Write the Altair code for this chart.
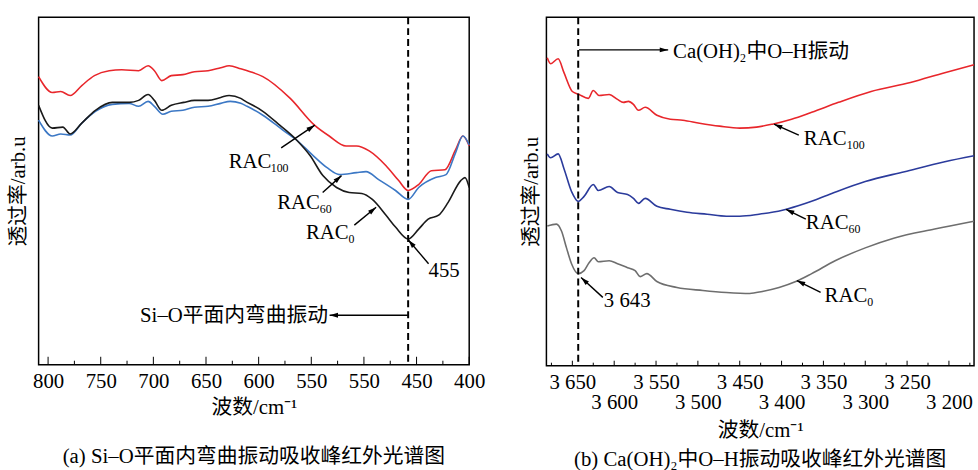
import math
import altair as alt
import pandas as pd

FONT = "'Liberation Serif', 'Noto Sans CJK SC', serif"

# ---------------- panel (a): Si-O bending ----------------
a_series = ["RAC100", "RAC60", "RAC0"]
a_colors = ["#e8262b", "#3c78c5", "#1a1a1a"]

a_red_w = [809, 796, 788, 779, 768, 756, 742, 730, 714, 705, 699, 692, 683, 672, 661, 648, 636, 628, 617, 608,
           596, 570, 547, 533, 517, 507, 495, 479, 467, 458, 448, 436, 423, 413, 406, 400]
a_red_y = [291, 275, 276, 272, 282, 292, 297, 298, 297, 302, 297, 287, 292, 293, 296, 297, 300, 302, 299, 296,
           291, 269, 242, 231, 221, 221, 216, 201, 186, 176, 182, 196, 197, 217, 231, 221]

a_blue_w = [809, 796, 788, 779, 768, 755, 739, 723, 714, 705, 699, 691, 683, 672, 661, 648, 636, 627, 617, 611,
            596, 577, 564, 549, 535, 523, 507, 498, 486, 470, 458, 448, 432, 422, 413, 406, 400]
a_blue_y = [247, 231, 233, 232, 244, 256, 263, 264, 261, 266, 261, 253, 256, 257, 260, 261, 264, 266, 264, 261,
            252, 237, 227, 212, 199, 192, 194, 195, 187, 176, 167, 179, 189, 192, 214, 231, 222]

a_black_w = [809, 796, 786, 779, 768, 755, 739, 723, 714, 705, 699, 692, 683, 671, 661, 648, 636, 628, 617, 614,
             596, 580, 564, 551, 539, 526, 514, 502, 492, 479, 470, 458, 448, 439, 429, 420, 408, 404, 400]
a_black_y = [262, 239, 240, 233, 244, 257, 265, 265, 267, 273, 267, 257, 262, 265, 267, 267, 270, 272, 269, 267,
             256, 242, 227, 211, 191, 179, 174, 173, 167, 151, 139, 127, 137, 147, 151, 164, 186, 189, 179]

a_xdomain = [400, 809]
a_ydomain = [0, 351]
a_tick_values = [800, 750, 700, 650, 600, 550, 500, 450, 400]
a_tick_labels = ["800", "750", "700", "650", "600", "550", "550", "450", "400"]
a_minor_ticks = [775, 725, 675, 625, 575, 525, 475, 425]
a_peak = [458]

a_label_text = ["RAC", "RAC", "RAC", "455"]
a_label_w = [628.5, 582.4, 555.1, 438.6]
a_label_y = [199, 157, 127, 89]
a_sub_text = ["100", "60", "0"]
a_sub_w = [588.5, 542.0, 514.6]
a_sub_y = [195, 153, 123]
a_note_text = ["Si–O平面内弯曲振动"]
a_note_w = [534.0]
a_note_y = [43]

a_arrow_w1 = [578.6, 539.2, 509.1, 438.6, 458.3]
a_arrow_y1 = [219, 174, 141, 102, 50]
a_arrow_w2 = [546.7, 521.3, 488.4, 457.8, 532.6]
a_arrow_y2 = [242, 191, 159, 126, 50]

# ---------------- panel (b): O-H in Ca(OH)2 ----------------
b_series = ["RAC100", "RAC60", "RAC0"]
b_colors = ["#e8262b", "#2b3b9c", "#6e6e6e"]

b_red_w = [3680, 3676, 3667, 3660, 3650, 3642, 3631, 3625, 3618, 3606, 3596, 3589, 3583, 3577, 3571, 3563, 3549,
           3533, 3518, 3498, 3474, 3450, 3430, 3411, 3388, 3364, 3332, 3293, 3246, 3205, 3170]
b_red_y = [311, 305, 310, 296, 277, 274, 270, 278, 273, 274, 269, 266, 267, 264, 258, 261, 253,
           249, 248, 245, 242, 240, 241, 244, 249, 256, 266, 277, 286, 296, 304]

b_blue_w = [3680, 3676, 3667, 3660, 3651, 3643, 3636, 3625, 3619, 3606, 3596, 3584, 3577, 3571, 3563, 3549, 3533,
            3513, 3489, 3466, 3450, 3427, 3399, 3371, 3340, 3300, 3253, 3205, 3170]
b_blue_y = [214, 210, 214, 199, 176, 166, 171, 183, 177, 181, 175, 173, 169, 164, 169, 161, 158,
            155, 153, 151, 151, 153, 157, 164, 174, 186, 196, 206, 212]

b_gray_w = [3680, 3669, 3663, 3657, 3651, 3643, 3636, 3630, 3624, 3619, 3606, 3596, 3584, 3575, 3569, 3561, 3549,
            3525, 3494, 3466, 3438, 3423, 3403, 3383, 3364, 3336, 3300, 3265, 3217, 3170]
b_gray_y = [141, 143, 136, 119, 103, 93, 96, 104, 109, 105, 106, 103, 99, 96, 90, 93, 85,
            79, 76, 74, 73, 75, 79, 85, 93, 106, 119, 129, 138, 146]

b_xdomain = [3170, 3681]
b_ydomain = [0, 352]
b_tick_values = [3650, 3600, 3550, 3500, 3450, 3400, 3350, 3300, 3250, 3200]
b_minor_ticks = [3675, 3625, 3575, 3525, 3475, 3425, 3375, 3325, 3275, 3225, 3175]
b_peak = [3643]

b_label_text = ["Ca(OH)", "中O–H振动", "RAC", "RAC", "RAC", "3 643"]
b_label_w = [3529.6, 3442.0, 3373.4, 3371.0, 3348.6, 3612.4]
b_label_y = [311, 311, 223, 138, 64, 59]
b_sub_text = ["2", "100", "60", "0"]
b_sub_w = [3449.6, 3322.0, 3320.0, 3297.6]
b_sub_y = [307, 219, 134, 60]

b_arrow_w1 = [3642, 3379.4, 3371.0, 3353.3, 3613.6]
b_arrow_y1 = [319, 233, 148, 74, 69]
b_arrow_w2 = [3535.5, 3409.0, 3394.7, 3381.7, 3639.6]
b_arrow_y2 = [319, 244, 158, 86, 89]

ARROW_SHAPE = "M0,0L-0.7,2.4L0.7,2.4Z"


def curves_df(ws, ys, names):
    rows = []
    for w_list, y_list, n in zip(ws, ys, names):
        for i, (w, y) in enumerate(zip(w_list, y_list)):
            rows.append({"w": w, "y": y, "series": n, "i": i})
    return pd.DataFrame(rows)


def panel(curves, names, colors, xdom, ydom, W, H, xaxis, ytitle_pad, peak,
          maj_ticks, min_ticks, maj_len, min_len,
          lab, sub, note, arrows, caption, cap_offset):
    xs = alt.Scale(domain=xdom, reverse=True, nice=False, zero=False)
    ys = alt.Scale(domain=ydom, nice=False, zero=False)
    yaxis = alt.Axis(title="透过率/arb.u", labels=False, ticks=False, domain=False, grid=False,
                     titleFont=FONT, titleFontSize=21, titleFontWeight="normal", titleColor="black",
                     titlePadding=ytitle_pad)
    X = alt.X("w:Q", scale=xs, axis=xaxis)
    Y = alt.Y("y:Q", scale=ys, axis=yaxis)

    lines = alt.Chart(curves).mark_line(strokeWidth=1.6, interpolate="monotone").encode(
        x=X, y=Y, order="i:Q",
        color=alt.Color("series:N", scale=alt.Scale(domain=names, range=colors), legend=None),
    )
    vline = alt.Chart(pd.DataFrame({"w": peak})).mark_rule(
        color="black", strokeWidth=2, strokeDash=[7, 4]).encode(x=X)
    tmaj = alt.Chart(pd.DataFrame({"w": maj_ticks})).mark_rule(color="black", strokeWidth=1).encode(
        x=X, y=alt.value(H), y2=alt.value(H - maj_len))
    tmin = alt.Chart(pd.DataFrame({"w": min_ticks})).mark_rule(color="black", strokeWidth=1).encode(
        x=X, y=alt.value(H), y2=alt.value(H - min_len))

    kx = W / (xdom[1] - xdom[0])
    ky = H / (ydom[1] - ydom[0])
    w1, y1, w2, y2 = arrows
    angs = []
    for a, b, c, d in zip(w1, y1, w2, y2):
        dx = -(c - a) * kx
        dy = -(d - b) * ky
        angs.append(math.degrees(math.atan2(dx, -dy)) % 360)
    adf = pd.DataFrame({"w": w1, "y": y1, "w2": w2, "y2": y2})
    arr = alt.Chart(adf).mark_rule(color="black", strokeWidth=1.4).encode(
        x=X, y=Y, x2="w2:Q", y2="y2:Q")
    hdf = pd.DataFrame({"w": w2, "y": y2, "ang": angs})
    heads = alt.Chart(hdf).mark_point(shape=ARROW_SHAPE, filled=True, color="black", opacity=1,
                                       size=50, strokeWidth=0).encode(
        x=X, y=Y, angle=alt.Angle("ang:Q", scale=None))

    ldf = pd.DataFrame({"w": lab[1], "y": lab[2], "t": lab[0]})
    labels = alt.Chart(ldf).mark_text(font=FONT, fontSize=21, align="left", baseline="alphabetic",
                                      color="black").encode(x=X, y=Y, text="t:N")
    sdf = pd.DataFrame({"w": sub[1], "y": sub[2], "t": sub[0]})
    subs = alt.Chart(sdf).mark_text(font=FONT, fontSize=12, align="left", baseline="alphabetic",
                                    color="black").encode(x=X, y=Y, text="t:N")
    layers = [lines, vline, tmaj, tmin, arr, heads, labels, subs]
    if note is not None:
        ndf = pd.DataFrame({"w": note[1], "y": note[2], "t": note[0]})
        layers.append(alt.Chart(ndf).mark_text(font=FONT, fontSize=21, align="right",
                                               baseline="alphabetic", color="black").encode(
            x=X, y=Y, text="t:N"))
    return alt.layer(*layers).properties(
        width=W, height=H,
        title=alt.TitleParams(caption, orient="bottom", anchor="middle", font=FONT, fontSize=21,
                              fontWeight="normal", color="black", offset=cap_offset),
    )


a_expr = "".join(f"datum.value == {v} ? '{l}' : " for v, l in zip(a_tick_values, a_tick_labels)) + "''"
a_axis = alt.Axis(values=a_tick_values, labelExpr=a_expr, ticks=False, domain=False, grid=False,
                  labelFlush=False, labelOverlap=False, labelFont=FONT, labelFontSize=21,
                  labelColor="black", labelPadding=6,
                  title="波数/cm⁻¹", titleFont=FONT, titleFontSize=21, titleFontWeight="normal",
                  titleColor="black", titlePadding=5)
b_axis = alt.Axis(values=b_tick_values, labelExpr="replace(format(datum.value, ','), ',', ' ')",
                  ticks=False, domain=False, grid=False, labelFlush=False, labelOverlap=False,
                  labelFont=FONT, labelFontSize=21, labelColor="black",
                  labelPadding={"condition": {"test": "datum.value % 100 != 0", "value": 6}, "value": 26},
                  title="波数/cm⁻¹", titleFont=FONT, titleFontSize=21, titleFontWeight="normal",
                  titleColor="black", titlePadding=8)

left = panel(curves_df([a_red_w, a_blue_w, a_black_w], [a_red_y, a_blue_y, a_black_y], a_series),
             a_series, a_colors, a_xdomain, a_ydomain, 435, 351, a_axis, 10, a_peak,
             a_tick_values, a_minor_ticks, 8, 4,
             (a_label_text, a_label_w, a_label_y), (a_sub_text, a_sub_w, a_sub_y),
             (a_note_text, a_note_w, a_note_y),
             (a_arrow_w1, a_arrow_y1, a_arrow_w2, a_arrow_y2),
             "(a) Si–O平面内弯曲振动吸收峰红外光谱图", 29)

right = panel(curves_df([b_red_w, b_blue_w, b_gray_w], [b_red_y, b_blue_y, b_gray_y], b_series),
              b_series, b_colors, b_xdomain, b_ydomain, 432, 352, b_axis, 5, b_peak,
              b_tick_values, b_minor_ticks, 5, 3,
              (b_label_text, b_label_w, b_label_y), (b_sub_text, b_sub_w, b_sub_y),
              None,
              (b_arrow_w1, b_arrow_y1, b_arrow_w2, b_arrow_y2),
              "(b) Ca(OH)₂中O–H振动吸收峰红外光谱图", 8)

chart = alt.hconcat(left, right, spacing=34).resolve_scale(
    x="independent", y="independent", color="independent"
).configure_view(stroke="black", strokeWidth=1.5).configure_axis(
    labelFont=FONT, titleFont=FONT
).configure_text(font=FONT).configure_title(font=FONT).properties(
    padding={"left": 7, "top": 13, "right": 0, "bottom": 0}, background="white"
)

chart.save("out.html", embed_options={"renderer": "svg", "actions": False})
